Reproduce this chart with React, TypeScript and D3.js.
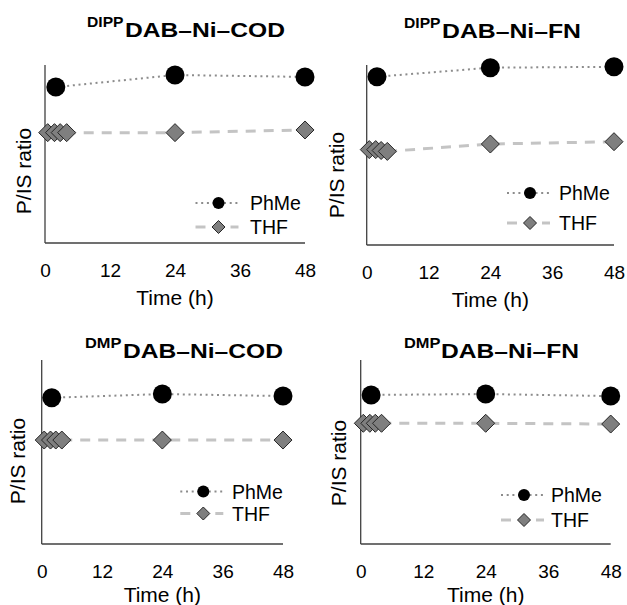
import React, { useRef, useEffect } from "react";
import { select, scaleLinear, line, axisBottom } from "d3";

// sampling times (h)
const phmeTimes = [2, 24, 48];
const thfTimes = [0.5, 1.75, 2.8, 4, 24, 48];
const xTicks = [0, 12, 24, 36, 48];
const seriesNames = ["PhMe", "THF"];

// panel titles
const titleSups = ["DIPP", "DIPP", "DMP", "DMP"];
const titleMains = ["DAB–Ni–COD", "DAB–Ni–FN", "DAB–Ni–COD", "DAB–Ni–FN"];

// P/IS ratio (arbitrary units, axis has no ticks)
const phmeDippCod = [0.876, 0.944, 0.933];
const thfDippCod = [0.62, 0.62, 0.62, 0.62, 0.62, 0.635];
const phmeDippFn = [0.935, 0.985, 0.99];
const thfDippFn = [0.53, 0.53, 0.525, 0.52, 0.561, 0.574];
const phmeDmpCod = [0.795, 0.815, 0.804];
const thfDmpCod = [0.565, 0.565, 0.565, 0.565, 0.565, 0.565];
const phmeDmpFn = [0.81, 0.815, 0.804];
const thfDmpFn = [0.656, 0.656, 0.656, 0.656, 0.656, 0.652];

const phmeSets = [phmeDippCod, phmeDippFn, phmeDmpCod, phmeDmpFn];
const thfSets = [thfDippCod, thfDippFn, thfDmpCod, thfDmpFn];

// where each panel sits on the page
const layout = [
  { x0: 45, x1: 305, top: 65, bottom: 243, supX: 87, mainX: 125, mainW: 160, titleY: 37, tickY: 277, xlabY: 305, ylabX: 24, ylabY: 171, legMark: 218.5, legText: 250, legY: [203, 227] },
  { x0: 366.7, x1: 614, top: 65, bottom: 245, supX: 404, mainX: 442, mainW: 139, titleY: 38, tickY: 279, xlabY: 307, ylabX: 337, ylabY: 175, legMark: 530, legText: 559, legY: [193, 223] },
  { x0: 41.7, x1: 283, top: 360, bottom: 544, supX: 85, mainX: 123, mainW: 160, titleY: 358, tickY: 578, xlabY: 602, ylabX: 18, ylabY: 461, legMark: 203.3, legText: 232, legY: [491.5, 513.5] },
  { x0: 360.7, x1: 610.7, top: 360, bottom: 544, supX: 404, mainX: 441, mainW: 138, titleY: 358, tickY: 578, xlabY: 602, ylabX: 339, ylabY: 463, legMark: 524, legText: 551, legY: [495, 520] },
];

const FONT = "'Liberation Sans', Arial, Helvetica, sans-serif";
const DOT_COLOR = "#8c8c8c";
const DASH_COLOR = "#c4c4c4";

const diamondPath = (x: number, y: number, r: number) =>
  `M${x},${y - r}L${x + r},${y}L${x},${y + r}L${x - r},${y}Z`;

const App = () => {
  const svgRef = useRef<SVGSVGElement>(null);

  useEffect(() => {
    const svg = select(svgRef.current);
    svg.selectAll("*").remove();

    layout.forEach((p, i) => {
      const g = svg.append("g").attr("class", "panel");

      const xScale = scaleLinear().domain([0, 48]).range([p.x0, p.x1]);
      const yScale = scaleLinear().domain([0, 1]).range([p.bottom, p.top]);

      // title with superscript ligand prefix
      g.append("text")
        .attr("x", p.supX)
        .attr("y", p.titleY - 10)
        .attr("font-family", FONT)
        .attr("font-weight", "bold")
        .attr("font-size", 14)
        .attr("textLength", titleSups[i] === "DIPP" ? 36.5 : 36.5)
        .attr("lengthAdjust", "spacingAndGlyphs")
        .text(titleSups[i]);
      g.append("text")
        .attr("x", p.mainX)
        .attr("y", p.titleY)
        .attr("font-family", FONT)
        .attr("font-weight", "bold")
        .attr("font-size", 21)
        .attr("textLength", p.mainW)
        .attr("lengthAdjust", "spacingAndGlyphs")
        .text(titleMains[i]);

      // x axis, labels only
      const xAxis = axisBottom(xScale).tickValues(xTicks).tickSize(0).tickPadding(0);
      const ax = g.append("g").attr("transform", `translate(0,${p.bottom})`).call(xAxis);
      ax.select(".domain").remove();
      ax.selectAll(".tick text")
        .attr("y", p.tickY - p.bottom)
        .attr("dy", 0)
        .attr("fill", "#000")
        .attr("font-family", FONT)
        .attr("font-size", 19);

      // axis lines
      g.append("line")
        .attr("x1", p.x0).attr("x2", p.x1)
        .attr("y1", p.bottom).attr("y2", p.bottom)
        .attr("stroke", "#404040").attr("stroke-width", 1.3);
      g.append("line")
        .attr("x1", p.x0).attr("x2", p.x0)
        .attr("y1", p.top).attr("y2", p.bottom)
        .attr("stroke", "#404040").attr("stroke-width", 1.3);

      // axis titles
      g.append("text")
        .attr("x", (p.x0 + p.x1) / 2)
        .attr("y", p.xlabY)
        .attr("text-anchor", "middle")
        .attr("font-family", FONT)
        .attr("font-size", 21)
        .text("Time (h)");
      g.append("text")
        .attr("transform", `translate(${p.ylabX},${p.ylabY}) rotate(-90)`)
        .attr("text-anchor", "middle")
        .attr("dy", "0.35em")
        .attr("font-family", FONT)
        .attr("font-size", 21)
        .text("P/IS ratio");

      const phme = phmeTimes.map((t, k) => ({ t, v: phmeSets[i][k] }));
      const thf = thfTimes.map((t, k) => ({ t, v: thfSets[i][k] }));
      const path = line<{ t: number; v: number }>()
        .x((d) => xScale(d.t))
        .y((d) => yScale(d.v));

      // lines
      g.append("path")
        .attr("d", path(thf))
        .attr("fill", "none")
        .attr("stroke", DASH_COLOR)
        .attr("stroke-width", 3)
        .attr("stroke-dasharray", "10 8");
      g.append("path")
        .attr("d", path(phme))
        .attr("fill", "none")
        .attr("stroke", DOT_COLOR)
        .attr("stroke-width", 2)
        .attr("stroke-dasharray", "2 3.7");

      // markers
      g.selectAll(".thf")
        .data(thf)
        .join("path")
        .attr("class", "thf")
        .attr("d", (d) => diamondPath(xScale(d.t), yScale(d.v), 9))
        .attr("fill", "#7f7f7f")
        .attr("stroke", "#262626")
        .attr("stroke-width", 1);
      g.selectAll(".phme")
        .data(phme)
        .join("circle")
        .attr("class", "phme")
        .attr("cx", (d) => xScale(d.t))
        .attr("cy", (d) => yScale(d.v))
        .attr("r", 9.5)
        .attr("fill", "#000");

      // legend
      const m = p.legMark;
      const [ly1, ly2] = p.legY;
      g.append("line")
        .attr("x1", m - 23).attr("x2", m + 19)
        .attr("y1", ly1).attr("y2", ly1)
        .attr("stroke", DOT_COLOR)
        .attr("stroke-width", 2)
        .attr("stroke-dasharray", "2 3.7");
      g.append("circle").attr("cx", m).attr("cy", ly1).attr("r", 6).attr("fill", "#000");
      [[m - 23, m - 13], [m + 12, m + 20]].forEach(([a, b]) => {
        g.append("line")
          .attr("x1", a).attr("x2", b)
          .attr("y1", ly2).attr("y2", ly2)
          .attr("stroke", DASH_COLOR)
          .attr("stroke-width", 3);
      });
      g.append("path")
        .attr("d", diamondPath(m, ly2, 6.5))
        .attr("fill", "#7f7f7f")
        .attr("stroke", "#262626")
        .attr("stroke-width", 1);
      seriesNames.forEach((name, k) => {
        g.append("text")
          .attr("x", p.legText)
          .attr("y", p.legY[k])
          .attr("dy", "0.36em")
          .attr("font-family", FONT)
          .attr("font-size", 19.5)
          .text(name);
      });
    });
  }, []);

  return (
    <div style={{ position: "absolute", left: 0, top: 0, background: "#fff" }}>
      <svg ref={svgRef} width={627} height={605}></svg>
    </div>
  );
};

export default App;
